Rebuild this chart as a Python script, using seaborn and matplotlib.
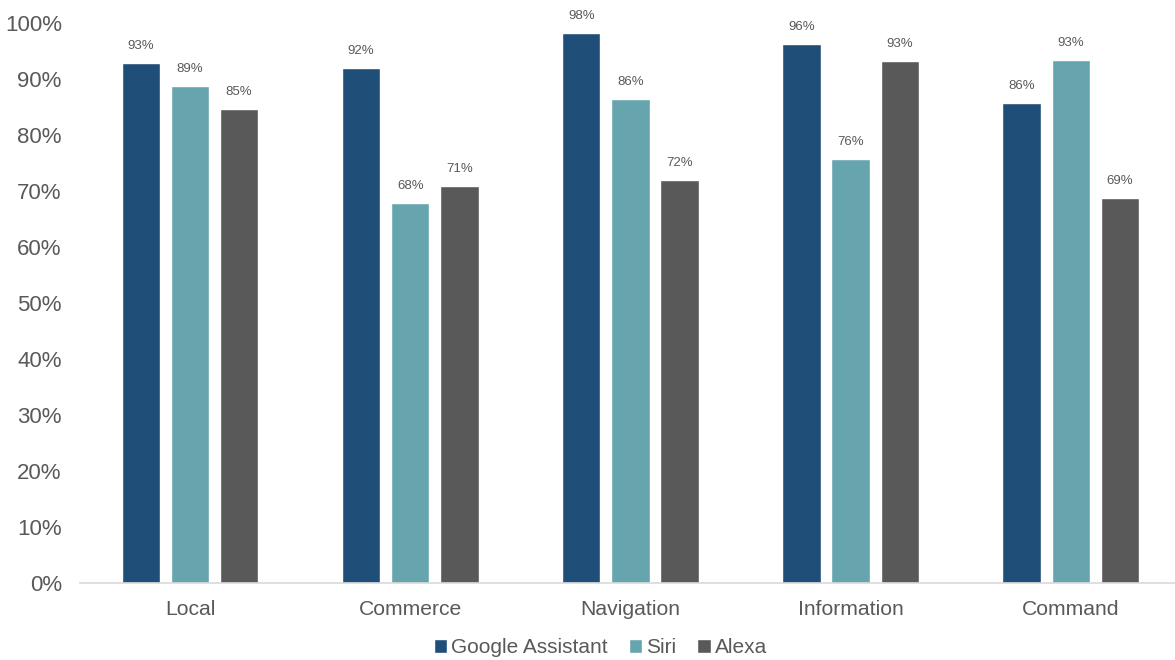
import matplotlib
matplotlib.use("Agg")
import matplotlib.pyplot as plt
import seaborn as sns
import pandas as pd
from matplotlib.patches import Patch

categories = ["Local", "Commerce", "Navigation", "Information", "Command"]
series = ["Google Assistant", "Siri", "Alexa"]
google = [0.929, 0.920, 0.982, 0.962, 0.857]
siri = [0.888, 0.679, 0.864, 0.757, 0.934]
alexa = [0.846, 0.709, 0.720, 0.932, 0.688]
colors = ["#1F4E79", "#67A5AE", "#595959"]

rows = []
for name, vals in zip(series, [google, siri, alexa]):
    for c, v in zip(categories, vals):
        rows.append({"Category": c, "Assistant": name, "Value": v})
df = pd.DataFrame(rows)

sns.set_theme(style="white")
plt.rcParams["font.family"] = ["Liberation Sans", "DejaVu Sans"]

fig = plt.figure(figsize=(11.75, 6.6), dpi=100)
ax = fig.add_axes([0.068, 0.1167, 0.937, 0.8485])

sns.barplot(data=df, x="Category", y="Value", hue="Assistant", order=categories,
            hue_order=series, palette=colors, width=0.67, gap=0.22,
            saturation=1, ax=ax, legend=False)

for cont in ax.containers:
    ax.bar_label(cont, labels=[f"{v*100:.0f}%" for v in cont.datavalues],
                 padding=8, fontsize=9.5, color="#595959")

ax.set_ylim(0, 1.0)
ax.set_xlim(-0.5, 4.5)
ax.set_yticks([i / 10 for i in range(11)])
ax.set_yticklabels([f"{i*10}%" for i in range(11)])
ax.set_xlabel("")
ax.set_ylabel("")
for s in ["top", "right", "left"]:
    ax.spines[s].set_visible(False)
ax.spines["bottom"].set_color("#D9D9D9")
ax.spines["bottom"].set_linewidth(1.2)
ax.tick_params(axis="y", length=0, pad=13, labelsize=16, labelcolor="#595959")
ax.tick_params(axis="x", length=0, pad=12.5, labelsize=15.2, labelcolor="#595959")

handles = [Patch(facecolor=c, label=s) for c, s in zip(colors, series)]
fig.legend(handles=handles, loc="center", bbox_to_anchor=(0.511, 0.019), ncol=3,
           frameon=False, fontsize=15, handlelength=0.65, handleheight=0.65,
           handletextpad=0.2, columnspacing=1.0, labelcolor="#595959")

fig.savefig("out.png", dpi=100)
